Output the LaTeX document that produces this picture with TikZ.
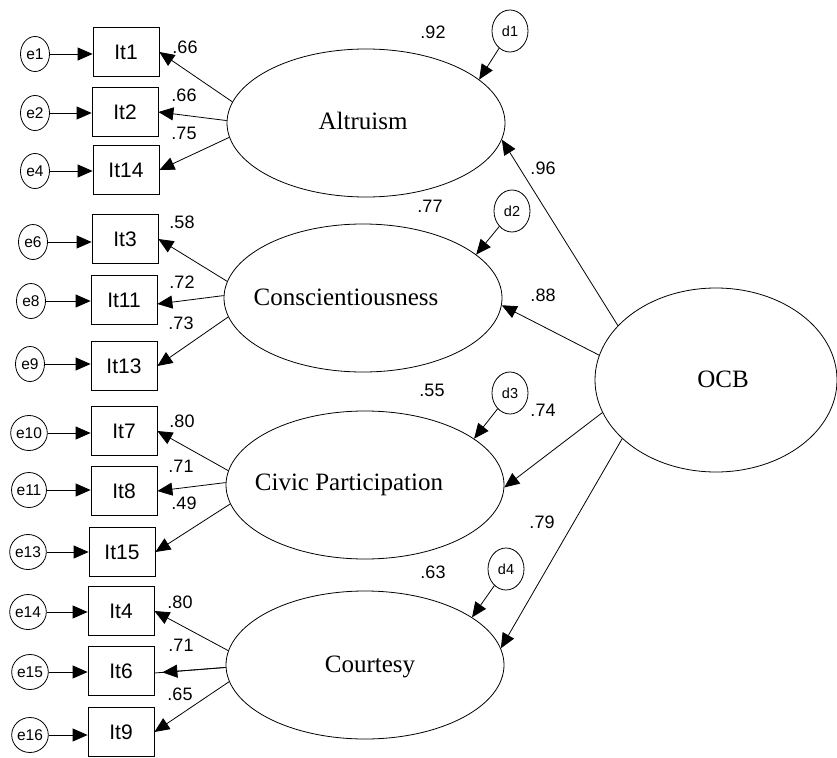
\documentclass[tikz,border=0pt]{standalone}
\usepackage{fontspec}
\setmainfont{Liberation Serif}
\newfontfamily\arialf{Liberation Sans}
\usetikzlibrary{arrows.meta,shapes.geometric}
\begin{document}
\begin{tikzpicture}[x=1pt,y=-1pt,line width=0.8pt,
  errc/.style={draw,ellipse,minimum width=29pt,minimum height=35pt,inner sep=0pt,font=\arialf\fontsize{15.5}{15.5}\selectfont},
  dcirc/.style={draw,ellipse,minimum width=36pt,minimum height=42pt,inner sep=0pt,font=\arialf\fontsize{14.5}{14.5}\selectfont},
  itembox/.style={draw,rectangle,minimum width=66pt,minimum height=49pt,inner sep=0pt,font=\arialf\fontsize{21}{21}\selectfont},
  latent/.style={draw,ellipse,minimum width=278pt,minimum height=148pt,inner sep=0pt},
  lname/.style={anchor=base,inner sep=0pt,font=\fontsize{25}{25}\selectfont},
  num/.style={inner sep=0pt,font=\arialf\fontsize{18}{18}\selectfont},
  arr/.style={-{Triangle[length=15pt,width=13pt]}}]
\useasboundingbox (0,0) rectangle (837,757);
% latent ellipses
\node[latent] (alt) at (366,123) {};
\node[latent] (cons) at (363,298) {};
\node[latent] (civ) at (365,485) {};
\node[latent] (cour) at (365,665) {};
\node[draw,ellipse,minimum width=242pt,minimum height=184pt,inner sep=0pt] (ocb) at (716,380) {};
\node[lname] (altT) at (363,129) {Altruism};
\node[lname] (consT) at (346,305) {Conscientiousness};
\node[lname] (civT) at (349,490) {Civic Participation};
\node[lname] (courT) at (370,672) {Courtesy};
\node[lname] (ocbT) at (723,387) {OCB};
% disturbances
\node[dcirc] (d1) at (510,31) {d1};
\node[dcirc] (d2) at (512,211) {d2};
\node[dcirc] (d3) at (510,393) {d3};
\node[dcirc] (d4) at (506,569) {d4};
% items
\node[itembox] (it1) at (126,52) {It1};
\node[itembox] (it2) at (125,112) {It2};
\node[itembox] (it14) at (126,170) {It14};
\node[itembox] (it3) at (125,239) {It3};
\node[itembox] (it11) at (124,300) {It11};
\node[itembox] (it13) at (124,366) {It13};
\node[itembox] (it7) at (124,431) {It7};
\node[itembox] (it8) at (124,491) {It8};
\node[itembox] (it15) at (122,552) {It15};
\node[itembox] (it4) at (121,611) {It4};
\node[itembox] (it6) at (121,671) {It6};
\node[itembox] (it9) at (121,732) {It9};
% errors
\node[errc] (e1) at (35,54) {e1};
\node[errc] (e2) at (35,113) {e2};
\node[errc] (e4) at (35,171) {e4};
\node[errc] (e6) at (33,242) {e6};
\node[errc] (e8) at (31,301) {e8};
\node[errc] (e9) at (30,364) {e9};
\node[errc] (e10) at (29,433) {e10};
\node[errc] (e11) at (29,490) {e11};
\node[errc] (e13) at (28,552) {e13};
\node[errc] (e14) at (28,612) {e14};
\node[errc] (e15) at (30,672) {e15};
\node[errc] (e16) at (30,735) {e16};
% error arrows
\foreach \e/\i in {e1/it1,e2/it2,e4/it14,e6/it3,e8/it11,e9/it13,e10/it7,e11/it8,e13/it15,e14/it4,e15/it6,e16/it9}
  \draw[arr] (\e) -- (\e -| \i.west);
% disturbance arrows
\draw[arr] (d1) -- (alt.21);
\draw[arr] (d2) -- (cons.21);
\draw[arr] (d3) -- (civ.23);
\draw[arr] (d4) -- (cour.24.5);
% structural arrows
\draw[arr] (ocb.151) -- (alt.-7);
\draw[arr] (ocb.168) -- (cons.-3);
\draw[arr] (ocb.196) -- (civ.-1);
\draw[arr] (ocb.212) -- (cour.7.5);
% loadings
\draw[arr] (alt.171.5) -- (it1.east);
\draw[arr] (alt.179) -- (it2.east);
\draw[arr] (alt.186) -- (it14.east);
\draw[arr] (cons.173) -- (it3.east);
\draw[arr] (cons.179) -- ([yshift=-4pt]it11.east);
\draw[arr] (cons.188) -- (it13.east);
\draw[arr] (civ.174) -- (it7.east);
\draw[arr] (civ.179) -- (it8.east);
\draw[arr] (civ.188) -- (it15.east);
\draw[arr] (cour.174) -- (it4.east);
\draw (cour.181) -- ([yshift=-2pt]it6.east);
\draw[arr,shorten >=8pt] (cour.181) -- ([yshift=-2pt]it6.east);
\draw[arr] (cour.187.5) -- (it9.east);
% numbers
\node[num] (n1) at (185,47) {.66};
\node[num] (n2) at (184,95) {.66};
\node[num] (n3) at (184,133) {.75};
\node[num] (n4) at (182,222) {.58};
\node[num] (n5) at (182,282) {.72};
\node[num] (n6) at (181,323) {.73};
\node[num] (n7) at (182,421) {.80};
\node[num] (n8) at (181,466) {.71};
\node[num] (n9) at (184,503) {.49};
\node[num] (n10) at (180,602) {.80};
\node[num] (n11) at (181,645) {.71};
\node[num] (n12) at (180,694) {.65};
\node[num] (r1) at (433,32) {.92};
\node[num] (r2) at (430,206) {.77};
\node[num] (r3) at (432,390) {.55};
\node[num] (r4) at (433,572) {.63};
\node[num] (g1) at (543,168) {.96};
\node[num] (g2) at (543,295) {.88};
\node[num] (g3) at (543,410) {.74};
\node[num] (g4) at (542,522) {.79};
\end{tikzpicture}
\end{document}
